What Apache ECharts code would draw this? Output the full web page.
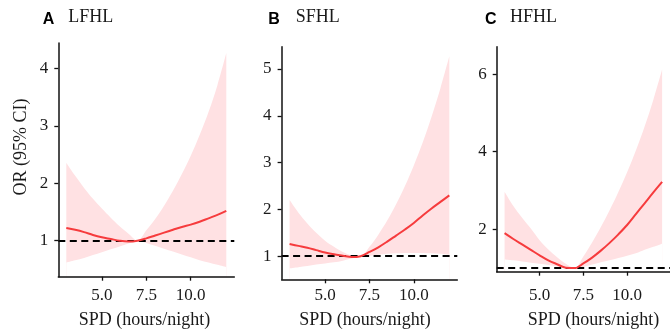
<!DOCTYPE html>
<html>
<head>
<meta charset="utf-8">
<script src="https://cdn.jsdelivr.net/npm/echarts@6/dist/echarts.min.js"></script>
<style>
html,body{margin:0;padding:0;background:#fff;}
#chart{width:670px;height:331px;}
</style>
</head>
<body>
<div id="chart"></div>
<script>
// SPD (hours/night)
const spd = [3, 3.5, 4, 4.5, 5, 5.5, 6, 6.5, 7, 7.5, 8, 8.5, 9, 9.5, 10, 10.5, 11, 11.5, 12];

// Panel A: LFHL
const lfhlOR    = [1.22, 1.19, 1.15, 1.10, 1.06, 1.03, 1.00, 0.985, 1.00, 1.04, 1.09, 1.14, 1.19, 1.24, 1.28, 1.33, 1.39, 1.45, 1.52];
const lfhlLower = [0.62, 0.66, 0.70, 0.75, 0.80, 0.85, 0.90, 0.95, 1.00, 0.96, 0.91, 0.86, 0.81, 0.76, 0.71, 0.66, 0.62, 0.58, 0.54];
const lfhlUpper = [2.36, 2.13, 1.92, 1.73, 1.56, 1.40, 1.25, 1.12, 1.00, 1.18, 1.38, 1.61, 1.87, 2.16, 2.48, 2.84, 3.24, 3.71, 4.27];

// Panel B: SFHL
const sfhlOR    = [1.26, 1.22, 1.18, 1.13, 1.08, 1.04, 1.01, 0.98, 1.00, 1.09, 1.19, 1.31, 1.44, 1.57, 1.71, 1.87, 2.02, 2.16, 2.30];
const sfhlLower = [0.74, 0.765, 0.79, 0.82, 0.845, 0.87, 0.905, 0.95, 1.00, 1.01, 1.03, 1.05, 1.06, 1.07, 1.07, 1.07, 1.06, 1.05, 1.03];
const sfhlUpper = [2.20, 1.93, 1.70, 1.50, 1.33, 1.20, 1.09, 1.02, 1.00, 1.20, 1.46, 1.76, 2.11, 2.50, 2.94, 3.43, 3.98, 4.59, 5.27];

// Panel C: HFHL
const hfhlOR    = [1.90, 1.75, 1.61, 1.47, 1.33, 1.20, 1.10, 1.01, 1.00, 1.12, 1.27, 1.45, 1.65, 1.87, 2.11, 2.39, 2.67, 2.95, 3.22];
const hfhlLower = [1.22, 1.20, 1.17, 1.14, 1.11, 1.08, 1.04, 1.01, 1.00, 1.03, 1.09, 1.15, 1.20, 1.26, 1.32, 1.38, 1.47, 1.55, 1.63];
const hfhlUpper = [2.97, 2.60, 2.30, 2.02, 1.72, 1.48, 1.28, 1.11, 1.00, 1.30, 1.66, 2.06, 2.49, 2.96, 3.47, 4.03, 4.65, 5.34, 6.12];

const panelLetters = ['A', 'B', 'C'];
const panelNames = ['LFHL', 'SFHL', 'HFHL'];
const xTicks = [5, 7.5, 10];
const yTicksA = [1, 2, 3, 4];
const yTicksB = [1, 2, 3, 4, 5];
const yTicksC = [2, 4, 6];
const xTitle = 'SPD (hours/night)';
const yTitle = 'OR (95% CI)';

const panels = [
  {or: lfhlOR, lo: lfhlLower, hi: lfhlUpper, yt: yTicksA, ymin: 0.373, ymax: 4.444,
   grid: {left: 58.3, top: 43, width: 176, height: 233.7}, lm: 18.7,
   letterX: 42.7, nameX: 68.3, xTitleX: 144.5},
  {or: sfhlOR, lo: sfhlLower, hi: sfhlUpper, yt: yTicksB, ymin: 0.506, ymax: 5.476,
   grid: {left: 281.6, top: 46.7, width: 175.7, height: 232.6}, lm: 16.4,
   letterX: 268.3, nameX: 295.7, xTitleX: 365},
  {or: hfhlOR, lo: hfhlLower, hi: hfhlUpper, yt: yTicksC, ymin: 0.907, ymax: 6.706,
   grid: {left: 496.7, top: 46.7, width: 176, height: 225}, lm: 24,
   letterX: 485, nameX: 510, xTitleX: 593.5}
];

const band = '#FFE1E3';
const red = '#F63B3D';
const ink = '#111';
const serif = '"Liberation Serif", "Times New Roman", serif';

const grids = [], xAxes = [], yAxes = [], series = [], graphics = [];
panels.forEach((p, i) => {
  grids.push(Object.assign({}, p.grid));
  xAxes.push({
    type: 'value', gridIndex: i, min: 2.55, max: 12.45, z: 10,
    axisLine: {show: true, onZero: false, lineStyle: {color: ink, width: 1.5}},
    axisTick: {show: true, length: 4, customValues: xTicks, lineStyle: {color: ink, width: 1.3}},
    axisLabel: {show: true, customValues: xTicks, margin: p.lm, verticalAlign: 'middle',
      formatter: v => v.toFixed(1), color: '#1a1a1a', fontFamily: serif, fontSize: 17},
    splitLine: {show: false}
  });
  yAxes.push({
    type: 'value', gridIndex: i, min: p.ymin, max: p.ymax, z: 10,
    axisLine: {show: true, onZero: false, lineStyle: {color: ink, width: 1.5}},
    axisTick: {show: true, length: 4, customValues: p.yt, lineStyle: {color: ink, width: 1.3}},
    axisLabel: {show: true, customValues: p.yt, margin: 10,
      color: '#1a1a1a', fontFamily: serif, fontSize: 17},
    splitLine: {show: false}
  });
  // upper CI bound: pink fill down to the axis floor
  series.push({
    type: 'line', xAxisIndex: i, yAxisIndex: i, smooth: 0.35, z: 1,
    symbol: 'none', silent: true, lineStyle: {opacity: 0},
    areaStyle: {color: band, opacity: 1, origin: 'start'},
    data: spd.map((x, j) => [x, p.hi[j]])
  });
  // lower CI bound: background fill below it, leaving the band between bounds
  series.push({
    type: 'line', xAxisIndex: i, yAxisIndex: i, smooth: 0.35, z: 2,
    symbol: 'none', silent: true, lineStyle: {opacity: 0},
    areaStyle: {color: '#ffffff', opacity: 1, origin: 'start'},
    data: spd.map((x, j) => [x, p.lo[j]])
  });
  series.push({
    type: 'line', xAxisIndex: i, yAxisIndex: i, smooth: 0.35, symbol: 'none',
    lineStyle: {color: red, width: 2}, z: 5,
    data: spd.map((x, j) => [x, p.or[j]]),
    markLine: {
      silent: true, symbol: 'none', label: {show: false},
      lineStyle: {color: '#000', width: 1.8, type: [7, 4.5]},
      data: [{yAxis: 1}]
    }
  });
  graphics.push({type: 'text', x: p.letterX, y: 19.5,
    style: {text: panelLetters[i], fill: '#000', font: 'bold 16px "Liberation Sans", Arial, sans-serif',
      align: 'left', verticalAlign: 'middle'}});
  graphics.push({type: 'text', x: p.nameX, y: 17.5,
    style: {text: panelNames[i], fill: '#1a1a1a', font: '18px ' + serif,
      align: 'left', verticalAlign: 'middle'}});
  graphics.push({type: 'text', x: p.xTitleX, y: 320.5,
    style: {text: xTitle, fill: '#1a1a1a', font: '18px ' + serif,
      align: 'center', verticalAlign: 'middle'}});
});
graphics.push({type: 'text', x: 20.8, y: 147, rotation: Math.PI / 2,
  style: {text: yTitle, fill: '#1a1a1a', font: '18px ' + serif,
    align: 'center', verticalAlign: 'middle'}});

const chart = echarts.init(document.getElementById('chart'), null, {renderer: 'canvas'});
chart.setOption({
  animation: false,
  backgroundColor: '#fff',
  grid: grids,
  xAxis: xAxes,
  yAxis: yAxes,
  series: series,
  graphic: graphics
});
</script>
</body>
</html>
